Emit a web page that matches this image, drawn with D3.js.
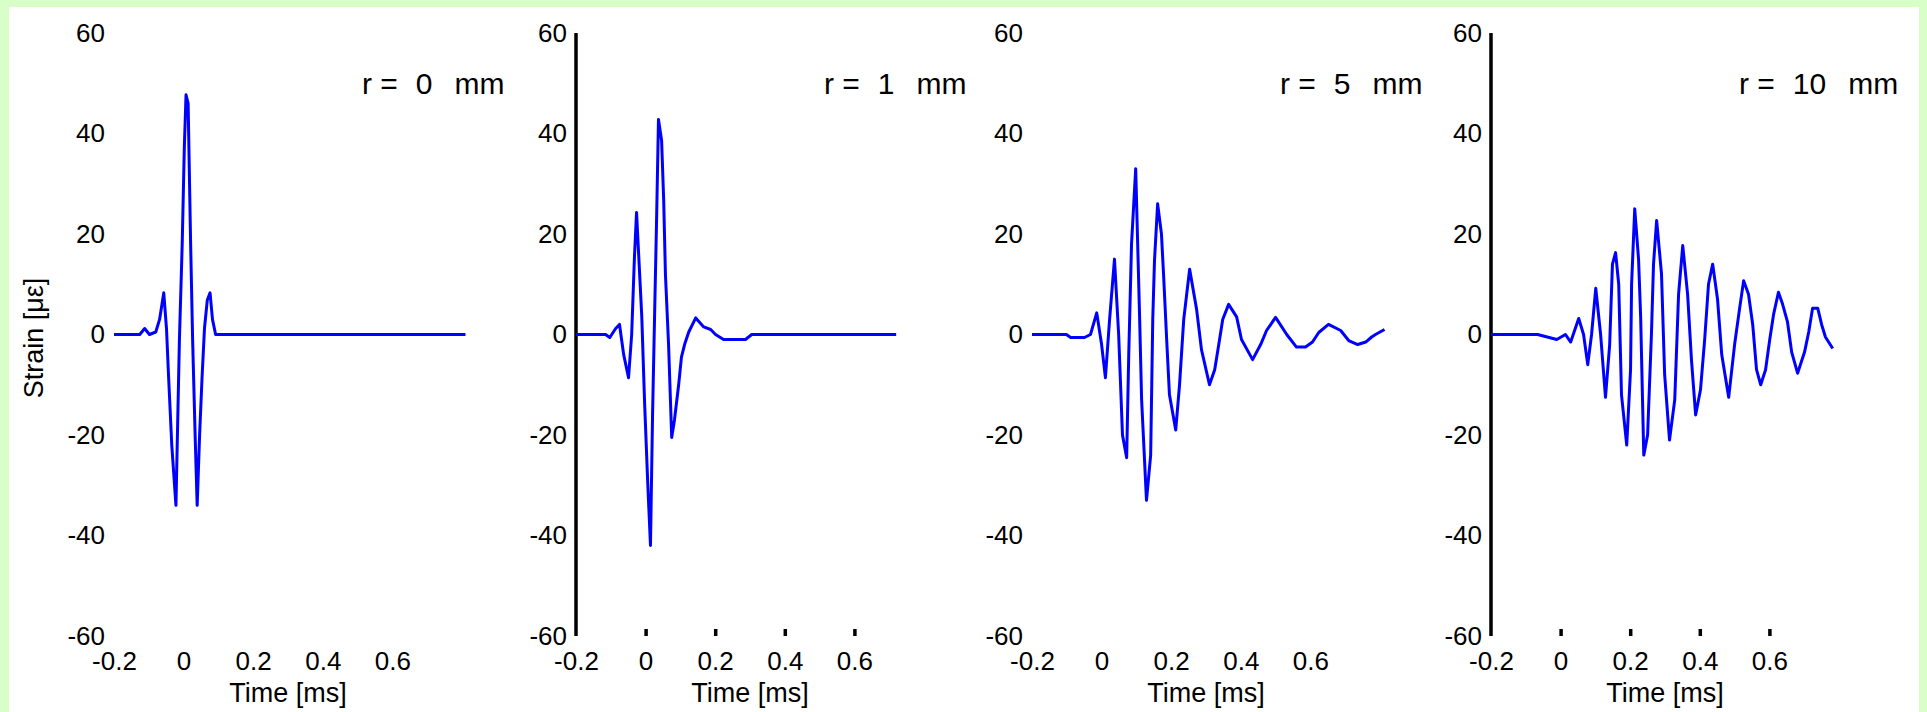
<!DOCTYPE html>
<html>
<head>
<meta charset="utf-8">
<script src="https://cdn.jsdelivr.net/npm/d3@7"></script>
<style>
  html, body { margin: 0; padding: 0; background: #ffffff; }
  svg { display: block; font-family: "Liberation Sans", Arial, sans-serif; }
</style>
</head>
<body>
<svg id="chart" width="1927" height="712"></svg>
<script>
// ---------------- data ----------------
const radiiMm = [0, 1, 5, 10];
const xTickValues = [-0.2, 0, 0.2, 0.4, 0.6];
const xTickLabels = ["-0.2", "0", "0.2", "0.4", "0.6"];
const yTickValues = [-60, -40, -20, 0, 20, 40, 60];
const yTickLabels = ["-60", "-40", "-20", "0", "20", "40", "60"];
const xTitle = "Time [ms]";
const yTitle = "Strain [με]";

// r = 0 mm
const timeR0 = [-0.2, -0.126, -0.112, -0.098, -0.08, -0.069, -0.057, -0.049, -0.043, -0.034, -0.022, -0.012, -0.004, 0.002, 0.007, 0.013, 0.02, 0.026, 0.033, 0.039, 0.046, 0.053, 0.06, 0.068, 0.076, 0.083, 0.092, 0.81];
const strainR0 = [0, 0, 1.2, 0, 0.5, 3, 8.3, 1, -8.6, -22, -34, -1, 18, 37, 47.7, 46, 18.7, -1.2, -19.7, -34, -20, -8.6, 1.2, 6.8, 8.3, 3, 0, 0];

// r = 1 mm
const timeR1 = [-0.2, -0.115, -0.103, -0.086, -0.075, -0.063, -0.049, -0.04, -0.032, -0.026, -0.02, -0.011, -0.003, 0.006, 0.014, 0.02, 0.026, 0.032, 0.037, 0.046, 0.052, 0.057, 0.066, 0.075, 0.083, 0.095, 0.103, 0.112, 0.124, 0.144, 0.167, 0.187, 0.201, 0.224, 0.287, 0.305, 0.72];
const strainR1 = [0, 0, -0.6, 1.2, 2, -4, -8.6, 0, 15.5, 24.3, 16, 3.6, -13.3, -29.3, -42, -16, 4.3, 24.3, 42.8, 38.6, 26.7, 12, -2, -20.5, -17, -10, -4.5, -2, 0.5, 3.3, 1.5, 1, 0, -1, -1, 0, 0];

// r = 5 mm
const timeR5 = [-0.2, -0.101, -0.089, -0.049, -0.032, -0.014, 0.0, 0.011, 0.023, 0.037, 0.049, 0.06, 0.072, 0.078, 0.086, 0.098, 0.109, 0.115, 0.129, 0.141, 0.147, 0.152, 0.161, 0.172, 0.178, 0.187, 0.195, 0.213, 0.224, 0.236, 0.253, 0.273, 0.287, 0.31, 0.325, 0.339, 0.348, 0.365, 0.388, 0.402, 0.434, 0.457, 0.474, 0.5, 0.532, 0.56, 0.586, 0.606, 0.624, 0.652, 0.687, 0.71, 0.736, 0.759, 0.776, 0.787, 0.813];
const strainR5 = [0, 0, -0.6, -0.6, 0, 4.3, -2, -8.6, 3, 15, 0, -20, -24.5, -4, 18, 33, 4, -13, -33, -24, 3, 14.7, 26, 20, 12, -1, -12, -19, -10, 3, 13, 5, -3, -10, -7, -1, 3, 6, 3.5, -1, -5, -2, 0.8, 3.4, 0, -2.5, -2.5, -1.5, 0.4, 2, 0.8, -1.2, -2, -1.5, -0.5, 0, 1];

// r = 10 mm
const timeR10 = [-0.2, -0.066, -0.011, 0.014, 0.029, 0.052, 0.066, 0.078, 0.089, 0.101, 0.115, 0.129, 0.141, 0.149, 0.158, 0.167, 0.175, 0.19, 0.201, 0.204, 0.213, 0.224, 0.23, 0.239, 0.25, 0.261, 0.267, 0.276, 0.29, 0.299, 0.313, 0.328, 0.339, 0.351, 0.365, 0.376, 0.388, 0.402, 0.414, 0.425, 0.437, 0.451, 0.463, 0.483, 0.5, 0.514, 0.526, 0.54, 0.552, 0.563, 0.575, 0.589, 0.601, 0.612, 0.626, 0.638, 0.652, 0.664, 0.681, 0.701, 0.713, 0.724, 0.739, 0.75, 0.761, 0.782];
const strainR10 = [0, 0, -1, 0, -1.5, 3.2, 0, -6, 0, 9.2, 0, -12.5, -2, 14, 16.3, 10, -12, -22, -7, 10, 25, 15, 3.6, -24, -20, 0, 14, 22.7, 12, -8, -21, -13, 8, 17.7, 8, -5, -16, -11, -1, 10, 14, 7, -4, -12.5, -2, 5, 10.7, 8, 2, -7, -10, -7, -1, 4, 8.4, 6, 2.5, -3.5, -7.7, -3.5, 0.5, 5.2, 5.2, 2, -0.5, -2.8];

const seriesTimes = [timeR0, timeR1, timeR5, timeR10];
const seriesStrain = [strainR0, strainR1, strainR5, strainR10];

// ---------------- layout ----------------
const W = 1927, H = 712;
const axisX = [114, 576, 1032, 1491];   // left edge of each panel's plot area
const plotW = 348;
const yTop = 33, yBottom = 636;
const showAxisLine = [false, true, false, true];

const svg = d3.select("#chart");
svg.append("rect").attr("x", 0).attr("y", 0).attr("width", W).attr("height", H).attr("fill", "#d9ffc9");
svg.append("rect").attr("x", 9).attr("y", 7).attr("width", 1910).attr("height", H - 7).attr("fill", "#ffffff");

const y = d3.scaleLinear().domain([-60, 60]).range([yBottom, yTop]);

radiiMm.forEach((r, i) => {
  const x0 = axisX[i];
  const x = d3.scaleLinear().domain([-0.2, 0.8]).range([x0, x0 + plotW]);
  const g = svg.append("g");

  // y axis
  const ya = g.append("g")
    .attr("transform", `translate(${x0},0)`)
    .call(d3.axisLeft(y).tickValues(yTickValues)
      .tickFormat((d, k) => yTickLabels[k]).tickSize(0).tickPadding(9));
  ya.selectAll("text").attr("font-size", 26).attr("fill", "#000").attr("font-family", "Liberation Sans, Arial, sans-serif");
  if (showAxisLine[i]) {
    ya.select(".domain").attr("stroke", "#000").attr("stroke-width", 3.5).attr("d", `M0,${yTop}V${yBottom}`);
  } else {
    ya.select(".domain").remove();
  }

  // x axis
  const xa = g.append("g")
    .attr("transform", `translate(0,${yBottom})`)
    .call(d3.axisBottom(x).tickValues(xTickValues)
      .tickFormat((d, k) => xTickLabels[k]).tickSizeInner(-7).tickSizeOuter(0).tickPadding(15.5));
  xa.select(".domain").remove();
  xa.selectAll("text").attr("font-size", 26).attr("fill", "#000").attr("font-family", "Liberation Sans, Arial, sans-serif");
  xa.selectAll(".tick line")
    .attr("stroke", (d) => (showAxisLine[i] && d !== -0.2) ? "#000" : "none")
    .attr("stroke-width", 3.5);

  // series line
  const pts = seriesTimes[i].map((t, k) => [t, seriesStrain[i][k]]);
  g.append("path")
    .datum(pts)
    .attr("fill", "none")
    .attr("stroke", "#0000ff")
    .attr("stroke-width", 3)
    .attr("stroke-linejoin", "round")
    .attr("d", d3.line().x(d => x(d[0])).y(d => y(d[1])));

  // annotation
  const lab = g.append("text")
    .attr("x", x0 + 248).attr("y", 94)
    .attr("font-size", 30).attr("fill", "#000");
  lab.append("tspan").text("r =");
  lab.append("tspan").attr("dx", 18).text(String(r));
  lab.append("tspan").attr("dx", 22).text("mm");

  // x title
  g.append("text")
    .attr("x", x(0.3)).attr("y", 702)
    .attr("text-anchor", "middle")
    .attr("font-size", 27).attr("fill", "#000")
    .text(xTitle);
});

// y title
svg.append("text")
  .attr("transform", "translate(43,338) rotate(-90)")
  .attr("text-anchor", "middle")
  .attr("font-size", 27).attr("fill", "#000")
  .text(yTitle);
</script>
</body>
</html>
